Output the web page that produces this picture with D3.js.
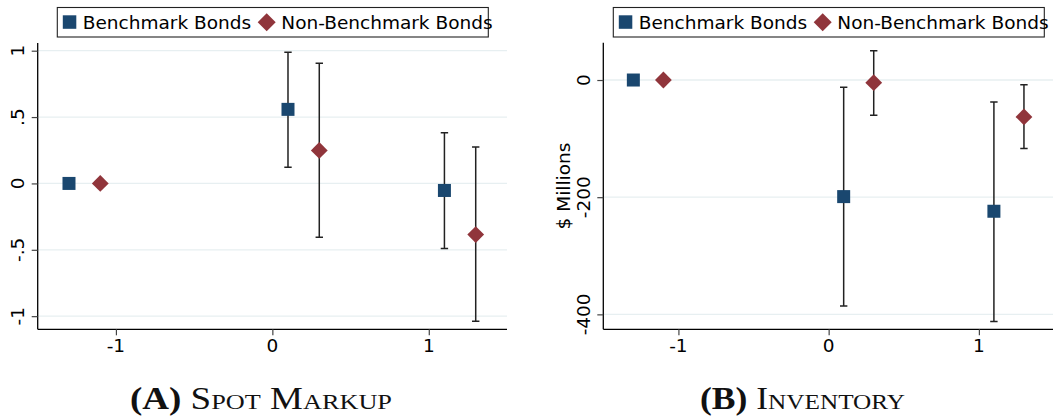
<!DOCTYPE html>
<html>
<head>
<meta charset="utf-8">
<script src="https://cdn.jsdelivr.net/npm/d3@7"></script>
<style>
  html, body { margin: 0; padding: 0; background: #fff; }
  svg { display: block; }
  .tick-label { font-family: "DejaVu Sans", sans-serif; font-size: 18.5px; fill: #000; }
  .legend-text { font-family: "DejaVu Sans", sans-serif; font-size: 18.5px; fill: #000; }
  .caption { font-family: "Liberation Serif", "Times New Roman", serif; font-size: 31px; fill: #111; }
</style>
</head>
<body>
<svg id="chart" width="1053" height="418"></svg>
<script>
// ---------------- data ----------------
const seriesNames = ["Benchmark Bonds", "Non-Benchmark Bonds"];
const xTicks = [-1, 0, 1];
const benchX = [-1.3, 0.1, 1.1];
const nonX = [-1.1, 0.3, 1.3];

// Panel A: Spot Markup
const markupTicks = [-1, -0.5, 0, 0.5, 1];
const markupTickLabels = ["-1", "-.5", "0", ".5", "1"];
const markupBench = [0, 0.558, -0.053];
const markupBenchLo = [0, 0.121, -0.490];
const markupBenchHi = [0, 0.988, 0.382];
const markupNon = [0, 0.249, -0.385];
const markupNonLo = [0, -0.405, -1.038];
const markupNonHi = [0, 0.905, 0.274];

// Panel B: Inventory ($ Millions)
const invTicks = [-400, -200, 0];
const invTickLabels = ["-400", "-200", "0"];
const invBench = [0, -199, -224];
const invBenchLo = [0, -385.7, -412];
const invBenchHi = [0, -12.5, -37.5];
const invNon = [0, -4.5, -63];
const invNonLo = [0, -60.3, -117];
const invNonHi = [0, 50, -8];

const captionA = ["(A)", " Spot Markup"];
const captionB = ["(B)", " Inventory"];
const invYLabel = "$ Millions";

// ---------------- styles ----------------
const navy = "#1a476f";
const maroon = "#90353b";
const gridColor = "#e7eff1";

const svg = d3.select("#chart");

function panel(opts) {
  const g = svg.append("g");
  const x = d3.scaleLinear().domain([-1.5, 1.5]).range([opts.left, opts.right]);
  const y = d3.scaleLinear().domain(opts.yDomain).range([opts.bottom, opts.top]);

  // gridlines
  g.selectAll(".grid").data(opts.yTicks).enter().append("line")
    .attr("x1", opts.left).attr("x2", opts.right)
    .attr("y1", d => y(d)).attr("y2", d => y(d))
    .attr("stroke", gridColor).attr("stroke-width", 1.3);

  // y axis
  const yAxis = d3.axisLeft(y).tickValues(opts.yTicks).tickSize(6).tickFormat("");
  const ya = g.append("g").attr("transform", `translate(${opts.left},0)`).call(yAxis);
  ya.select(".domain").attr("d", `M0,${opts.top}V${opts.bottom}`).attr("stroke", "#000").attr("stroke-width", 1.3);
  ya.selectAll(".tick line").attr("stroke", "#444").attr("stroke-width", 1.2);
  g.selectAll(".ylab").data(opts.yTicks).enter().append("text")
    .attr("class", "tick-label")
    .attr("transform", (d) => `translate(${opts.left - 13.5},${y(d)}) rotate(-90)`)
    .attr("text-anchor", "middle")
    .text((d, i) => opts.yTickLabels[i]);

  // x axis
  const xAxis = d3.axisBottom(x).tickValues(xTicks).tickSize(6).tickFormat("");
  const xa = g.append("g").attr("transform", `translate(0,${opts.bottom})`).call(xAxis);
  xa.select(".domain").attr("d", `M${opts.left},0H${opts.right}`).attr("stroke", "#000").attr("stroke-width", 1.3);
  xa.selectAll(".tick line").attr("stroke", "#444").attr("stroke-width", 1.2);
  g.selectAll(".xlab").data(xTicks).enter().append("text")
    .attr("class", "tick-label")
    .attr("x", d => x(d)).attr("y", opts.bottom + 22.5)
    .attr("text-anchor", "middle")
    .text(d => d);

  // error bars
  function errorBars(xs, lo, hi) {
    const data = xs.map((d, i) => ({ x: d, lo: lo[i], hi: hi[i] })).filter(d => d.lo !== d.hi);
    const eb = g.append("g").attr("stroke", "#222").attr("stroke-width", 1.5).attr("fill", "none");
    eb.selectAll("path").data(data).enter().append("path")
      .attr("d", d => {
        const cx = x(d.x), y1 = y(d.hi), y2 = y(d.lo), w = 3.7;
        return `M${cx},${y1}V${y2}M${cx - w},${y1}H${cx + w}M${cx - w},${y2}H${cx + w}`;
      });
  }
  errorBars(benchX, opts.benchLo, opts.benchHi);
  errorBars(nonX, opts.nonLo, opts.nonHi);

  // markers
  const sq = 13;
  g.selectAll(".bench").data(benchX).enter().append("rect")
    .attr("x", (d) => x(d) - sq / 2)
    .attr("y", (d, i) => y(opts.bench[i]) - sq / 2)
    .attr("width", sq).attr("height", sq).attr("fill", navy);
  const dr = 8.4;
  g.selectAll(".non").data(nonX).enter().append("path")
    .attr("d", (d, i) => {
      const cx = x(d), cy = y(opts.non[i]);
      return `M${cx},${cy - dr}L${cx + dr},${cy}L${cx},${cy + dr}L${cx - dr},${cy}Z`;
    })
    .attr("fill", maroon);

  // legend
  const L = opts.legendLeft;
  const lg = g.append("g");
  lg.append("rect").attr("x", L).attr("y", 7.5).attr("width", 431).attr("height", 29.5)
    .attr("fill", "#fff").attr("stroke", "#222").attr("stroke-width", 1.1);
  lg.append("rect").attr("x", L + 5.5).attr("y", 15.3).attr("width", 13.5).attr("height", 13.5).attr("fill", navy);
  lg.append("text").attr("class", "legend-text").attr("x", L + 25.5).attr("y", 29.2).text(seriesNames[0]);
  const dcx = L + 209.4, dcy = 22.2, dl = 9;
  lg.append("path").attr("d", `M${dcx},${dcy - dl}L${dcx + dl},${dcy}L${dcx},${dcy + dl}L${dcx - dl},${dcy}Z`).attr("fill", maroon);
  lg.append("text").attr("class", "legend-text").attr("x", L + 224).attr("y", 29.2).text(seriesNames[1]);

  // y label
  if (opts.yLabel) {
    g.append("text").attr("class", "tick-label")
      .attr("transform", `translate(${opts.yLabelX},${opts.yLabelY}) rotate(-90)`)
      .attr("text-anchor", "middle").text(opts.yLabel);
  }

  // caption
  const cap = g.append("text").attr("class", "caption")
    .attr("x", opts.captionX).attr("y", 409).attr("text-anchor", "middle")
    .attr("textLength", opts.captionWidth).attr("lengthAdjust", "spacingAndGlyphs");
  cap.append("tspan").attr("font-weight", "bold").text(opts.caption[0]);
  cap.append("tspan").style("font-variant", "small-caps").text(opts.caption[1]);
}

panel({
  left: 37.7, right: 507, top: 43, bottom: 329.3,
  yDomain: [-1.099, 1.058],
  yTicks: markupTicks, yTickLabels: markupTickLabels,
  bench: markupBench, benchLo: markupBenchLo, benchHi: markupBenchHi,
  non: markupNon, nonLo: markupNonLo, nonHi: markupNonHi,
  legendLeft: 57.3,
  caption: captionA, captionX: 261, captionWidth: 262
});

panel({
  left: 603.3, right: 1054, top: 42.7, bottom: 329.3,
  yDomain: [-425.5, 63.7],
  yTicks: invTicks, yTickLabels: invTickLabels,
  bench: invBench, benchLo: invBenchLo, benchHi: invBenchHi,
  non: invNon, nonLo: invNonLo, nonHi: invNonHi,
  legendLeft: 613.3,
  yLabel: invYLabel, yLabelX: 569.5, yLabelY: 186,
  caption: captionB, captionX: 802.5, captionWidth: 205
});
</script>
</body>
</html>
